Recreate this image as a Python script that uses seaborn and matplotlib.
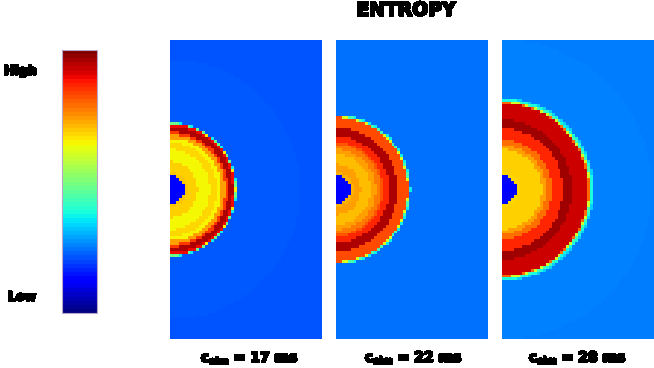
import numpy as np
import matplotlib
matplotlib.use("Agg")
import matplotlib.pyplot as plt
import matplotlib.patheffects as pe
import seaborn as sns
from matplotlib.colorbar import ColorbarBase
from matplotlib.colors import Normalize

# Outer radius of each shell (px from the explosion centre) and its level on the jet scale
radii_1 = [14, 17, 28, 40, 47, 51, 55, 58, 63, 65.2, 65.8, 66.4, 67, 130, 400]
levels_1 = [0.11, 0.70, 0.69, 0.645, 0.68, 0.65, 0.74, 0.85, 0.96, 0.90, 0.66, 0.48, 0.36, 0.214, 0.21]

radii_2 = [14, 17, 25, 35, 40, 45, 47, 53, 62, 72, 72.8, 73.6, 74.6, 130, 400]
levels_2 = [0.11, 0.72, 0.74, 0.71, 0.74, 0.78, 0.82, 0.87, 0.96, 0.83, 0.62, 0.44, 0.36, 0.238, 0.235]

radii_3 = [14, 17, 40, 44, 50, 61, 70, 86, 87, 88, 89, 90.5, 91.5, 150, 400]
levels_3 = [0.11, 0.68, 0.69, 0.74, 0.79, 0.87, 0.97, 0.93, 0.80, 0.60, 0.44, 0.38, 0.33, 0.252, 0.248]

panel_left = [170, 336, 502]
captions = ["17 ms", "22 ms", "28 ms"]
caption_x = [201, 365, 529]

FIG_W, FIG_H = 654, 368
PANEL_W, PANEL_H = 152, 299
PANEL_TOP = 40
N_COLS, N_ROWS = 52, 102


def to_axes(fig, left, top, width, height):
    return fig.add_axes([left / FIG_W, 1 - (top + height) / FIG_H, width / FIG_W, height / FIG_H])


def shell_grid(radii, levels):
    # nearest-shell lookup, one value per simulation cell
    dx = PANEL_W / N_COLS
    dy = PANEL_H / N_ROWS
    x = (np.arange(N_COLS) + 0.5) * dx
    y = (np.arange(N_ROWS) - N_ROWS / 2 + 0.5) * dy
    r = np.hypot(*np.meshgrid(x, y))
    idx = np.searchsorted(radii, r)
    return np.array(levels)[idx]


def put_text(x, y, s, size, ha="left"):
    fig_text = plt.gcf().text(
        x / FIG_W, 1 - y / FIG_H, s, fontsize=size, fontweight="bold",
        ha=ha, va="center", color="black",
    )
    fig_text.set_path_effects([pe.withStroke(linewidth=0.9, foreground="black")])


def main():
    sns.set_theme(style="white")
    plt.rcParams["font.family"] = "DejaVu Sans"
    plt.rcParams["text.antialiased"] = False
    plt.rcParams["mathtext.default"] = "bf"

    fig = plt.figure(figsize=(FIG_W / 100, FIG_H / 100), dpi=100, facecolor="white")

    profiles = [(radii_1, levels_1), (radii_2, levels_2), (radii_3, levels_3)]
    for left, (radii, levels) in zip(panel_left, profiles):
        ax = to_axes(fig, left, PANEL_TOP, PANEL_W, PANEL_H)
        sns.heatmap(shell_grid(radii, levels), ax=ax, cmap="jet", vmin=0, vmax=1,
                    cbar=False, xticklabels=False, yticklabels=False)

    cax = to_axes(fig, 62, 50, 35, 263)
    bar = ColorbarBase(cax, cmap=plt.get_cmap("jet", 64), norm=Normalize(0, 1), orientation="vertical")
    bar.set_ticks([])
    bar.outline.set_edgecolor("#b9a5c8")
    bar.outline.set_linewidth(0.8)

    put_text(406, 10, "ENTROPY", 13.5, ha="center")
    put_text(4, 71, "High", 9)
    put_text(8, 297, "Low", 9)
    for x, label in zip(caption_x, captions):
        put_text(x, 358, "$c_{sim}$ = " + label, 10)

    fig.savefig("out.png", dpi=100, facecolor="white")
    plt.close(fig)


if __name__ == "__main__":
    main()
